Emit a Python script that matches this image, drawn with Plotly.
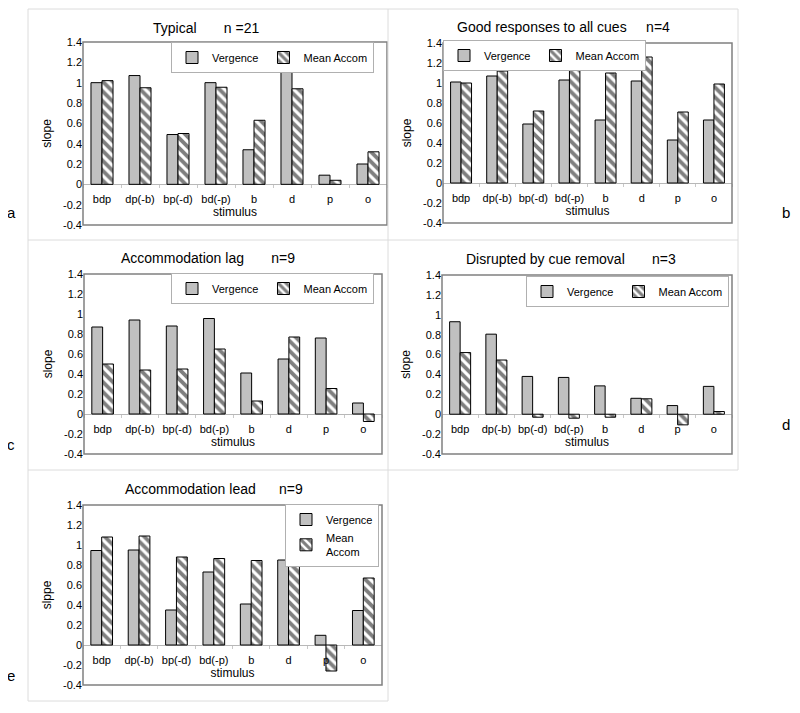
import plotly.graph_objects as go

# ---------------- data ----------------
categories = ["bdp", "dp(-b)", "bp(-d)", "bd(-p)", "b", "d", "p", "o"]
series_names = ["Vergence", "Mean Accom"]
y_tick_vals = [-0.4, -0.2, 0, 0.2, 0.4, 0.6, 0.8, 1, 1.2, 1.4]
y_tick_text = ["-0.4", "-0.2", "0", "0.2", "0.4", "0.6", "0.8", "1", "1.2", "1.4"]

typical_vergence = [1.00, 1.07, 0.49, 1.00, 0.34, 1.11, 0.09, 0.20]
typical_accom = [1.02, 0.95, 0.50, 0.955, 0.63, 0.94, 0.04, 0.32]

good_vergence = [1.01, 1.07, 0.59, 1.03, 0.63, 1.02, 0.43, 0.63]
good_accom = [1.00, 1.12, 0.72, 1.13, 1.10, 1.26, 0.71, 0.99]

lag_vergence = [0.87, 0.94, 0.88, 0.955, 0.41, 0.55, 0.76, 0.11]
lag_accom = [0.50, 0.44, 0.45, 0.65, 0.13, 0.77, 0.255, -0.075]

disrupted_vergence = [0.93, 0.805, 0.38, 0.37, 0.285, 0.16, 0.087, 0.28]
disrupted_accom = [0.62, 0.545, -0.03, -0.04, -0.03, 0.155, -0.107, 0.027]

lead_vergence = [0.945, 0.95, 0.35, 0.73, 0.41, 0.85, 0.097, 0.345]
lead_accom = [1.08, 1.09, 0.88, 0.865, 0.845, 1.20, -0.26, 0.67]

titles = [
    "Typical\u00a0\u00a0\u00a0\u00a0\u00a0\u00a0 n =21",
    "Good responses to all cues\u00a0\u00a0\u00a0\u00a0 n=4",
    "Accommodation lag\u00a0\u00a0\u00a0\u00a0\u00a0\u00a0 n=9",
    "Disrupted by cue removal\u00a0\u00a0\u00a0\u00a0\u00a0\u00a0 n=3",
    "Accommodation lead\u00a0\u00a0\u00a0\u00a0\u00a0 n=9",
]
y_titles = ["slope", "slope", "slope", "slope", "slppe"]
panel_letters = ["a", "b", "c", "d", "e"]

# ---------------- layout geometry (page pixels) ----------------
# the page body has an 8px default margin, so the figure is 8px smaller
# and all page-pixel positions are shifted by that offset
OFF = 8
W, H = 800 - OFF, 713 - OFF
FONT = "Liberation Sans, Arial, sans-serif"

def X(px):
    return (px - OFF) / W

def Y(py):
    return 1 - (py - OFF) / H

panels = [
    dict(v=typical_vergence, a=typical_accom, px=(83, 387), py=(42, 225),
         title_xy=(206, 28), legend_xy=(374, 42), legend_anchor="right",
         legend_orient="h", letter_xy=(11, 213)),
    dict(v=good_vergence, a=good_accom, px=(443, 732), py=(43, 223),
         title_xy=(563, 27), legend_xy=(443, 40), legend_anchor="left",
         legend_orient="h", letter_xy=(786, 213)),
    dict(v=lag_vergence, a=lag_accom, px=(84, 382), py=(274, 454),
         title_xy=(208, 258), legend_xy=(374, 273), legend_anchor="right",
         legend_orient="h", letter_xy=(11, 444)),
    dict(v=disrupted_vergence, a=disrupted_accom, px=(442, 732), py=(275, 454),
         title_xy=(571, 259), legend_xy=(729, 276), legend_anchor="right",
         legend_orient="h", letter_xy=(786, 424)),
    dict(v=lead_vergence, a=lead_accom, px=(83, 382), py=(505, 685),
         title_xy=(214, 489), legend_xy=(379, 504), legend_anchor="right",
         legend_orient="v", letter_xy=(11, 675)),
]

fig = go.Figure()
shapes = []
annotations = []
layout_extra = {}

YMIN, YMAX = -0.4, 1.4

for i, p in enumerate(panels):
    n = i + 1
    sfx = "" if n == 1 else str(n)
    xa, ya = "x" + sfx, "y" + sfx
    leg = "legend" + sfx
    x0, x1 = X(p["px"][0]), X(p["px"][1])
    y0, y1 = Y(p["py"][1]), Y(p["py"][0])
    zero_pos = y0 + (0 - YMIN) / (YMAX - YMIN) * (y1 - y0)

    accom_name = series_names[1] if p["legend_orient"] == "h" else "Mean<br>Accom"

    fig.add_trace(go.Bar(
        x=categories, y=p["v"], name=series_names[0], xaxis=xa, yaxis=ya,
        legend=leg, marker=dict(color="#c0c0c0", line=dict(color="black", width=1)),
    ))
    fig.add_trace(go.Bar(
        x=categories, y=p["a"], name=accom_name, xaxis=xa, yaxis=ya,
        legend=leg,
        marker=dict(color="white", line=dict(color="black", width=1),
                    pattern=dict(shape="\\", fgcolor="black", bgcolor="white",
                                 size=7, solidity=0.55)),
    ))

    layout_extra["xaxis" + sfx] = dict(
        domain=[x0, x1], type="category", range=[-0.5, 7.5],
        anchor="free", position=zero_pos, showgrid=False, zeroline=False,
        showline=False, ticks="outside", tickson="boundaries", ticklen=3,
        tickcolor="#c8c8c8", tickangle=0, automargin=False, ticklabelstandoff=7,
        tickfont=dict(family=FONT, size=11, color="black"),
        title=dict(text="stimulus", standoff=0,
                   font=dict(family=FONT, size=12, color="black")),
    )
    layout_extra["yaxis" + sfx] = dict(
        domain=[y0, y1], range=[YMIN, YMAX], anchor=xa,
        tickvals=y_tick_vals, ticktext=y_tick_text, showgrid=False,
        zeroline=True, zerolinecolor="#b8b8b8", zerolinewidth=1,
        showline=False, ticks="", automargin=False,
        tickfont=dict(family=FONT, size=11, color="black"),
        title=dict(text=y_titles[i], standoff=8,
                   font=dict(family=FONT, size=12, color="black")),
    )
    layout_extra[leg] = dict(
        x=X(p["legend_xy"][0]), y=Y(p["legend_xy"][1]),
        xanchor=p["legend_anchor"], yanchor="top",
        orientation=p["legend_orient"], bgcolor="white",
        bordercolor="#b0b0b0", borderwidth=1, itemwidth=30,
        tracegroupgap=6,
        font=dict(family=FONT, size=11, color="black"),
    )
    # plot-area frame
    shapes.append(dict(type="rect", xref=xa + " domain", yref=ya + " domain",
                       x0=0, x1=1, y0=0, y1=1,
                       line=dict(color="#808080", width=1.5)))
    annotations.append(dict(text=titles[i], x=X(p["title_xy"][0]),
                            y=Y(p["title_xy"][1]), xref="paper", yref="paper",
                            showarrow=False, xanchor="center", yanchor="middle",
                            font=dict(family=FONT, size=14, color="black")))
    annotations.append(dict(text=panel_letters[i], x=X(p["letter_xy"][0]),
                            y=Y(p["letter_xy"][1]), xref="paper", yref="paper",
                            showarrow=False, xanchor="center", yanchor="middle",
                            font=dict(family=FONT, size=15, color="black")))

# table grid lines (light gray)
grid_col = "#dcdcdc"
def hline(y, xa_, xb_):
    return dict(type="line", xref="paper", yref="paper", x0=X(xa_), x1=X(xb_),
                y0=Y(y), y1=Y(y), line=dict(color=grid_col, width=1))
def vline(x, ya_, yb_):
    return dict(type="line", xref="paper", yref="paper", x0=X(x), x1=X(x),
                y0=Y(ya_), y1=Y(yb_), line=dict(color=grid_col, width=1))

shapes += [
    hline(9, 28, 738), hline(240, 28, 738), hline(470, 28, 738), hline(701, 28, 388),
    vline(28, 9, 701), vline(388, 9, 701), vline(738, 9, 470),
]

fig.update_layout(
    width=W, height=H, margin=dict(l=0, r=0, t=0, b=0, autoexpand=False),
    paper_bgcolor="white", plot_bgcolor="white",
    barmode="group", bargap=0.42, bargroupgap=0,
    shapes=shapes, annotations=annotations,
    font=dict(family=FONT, color="black"),
    **layout_extra,
)

fig.write_html("out.html")
